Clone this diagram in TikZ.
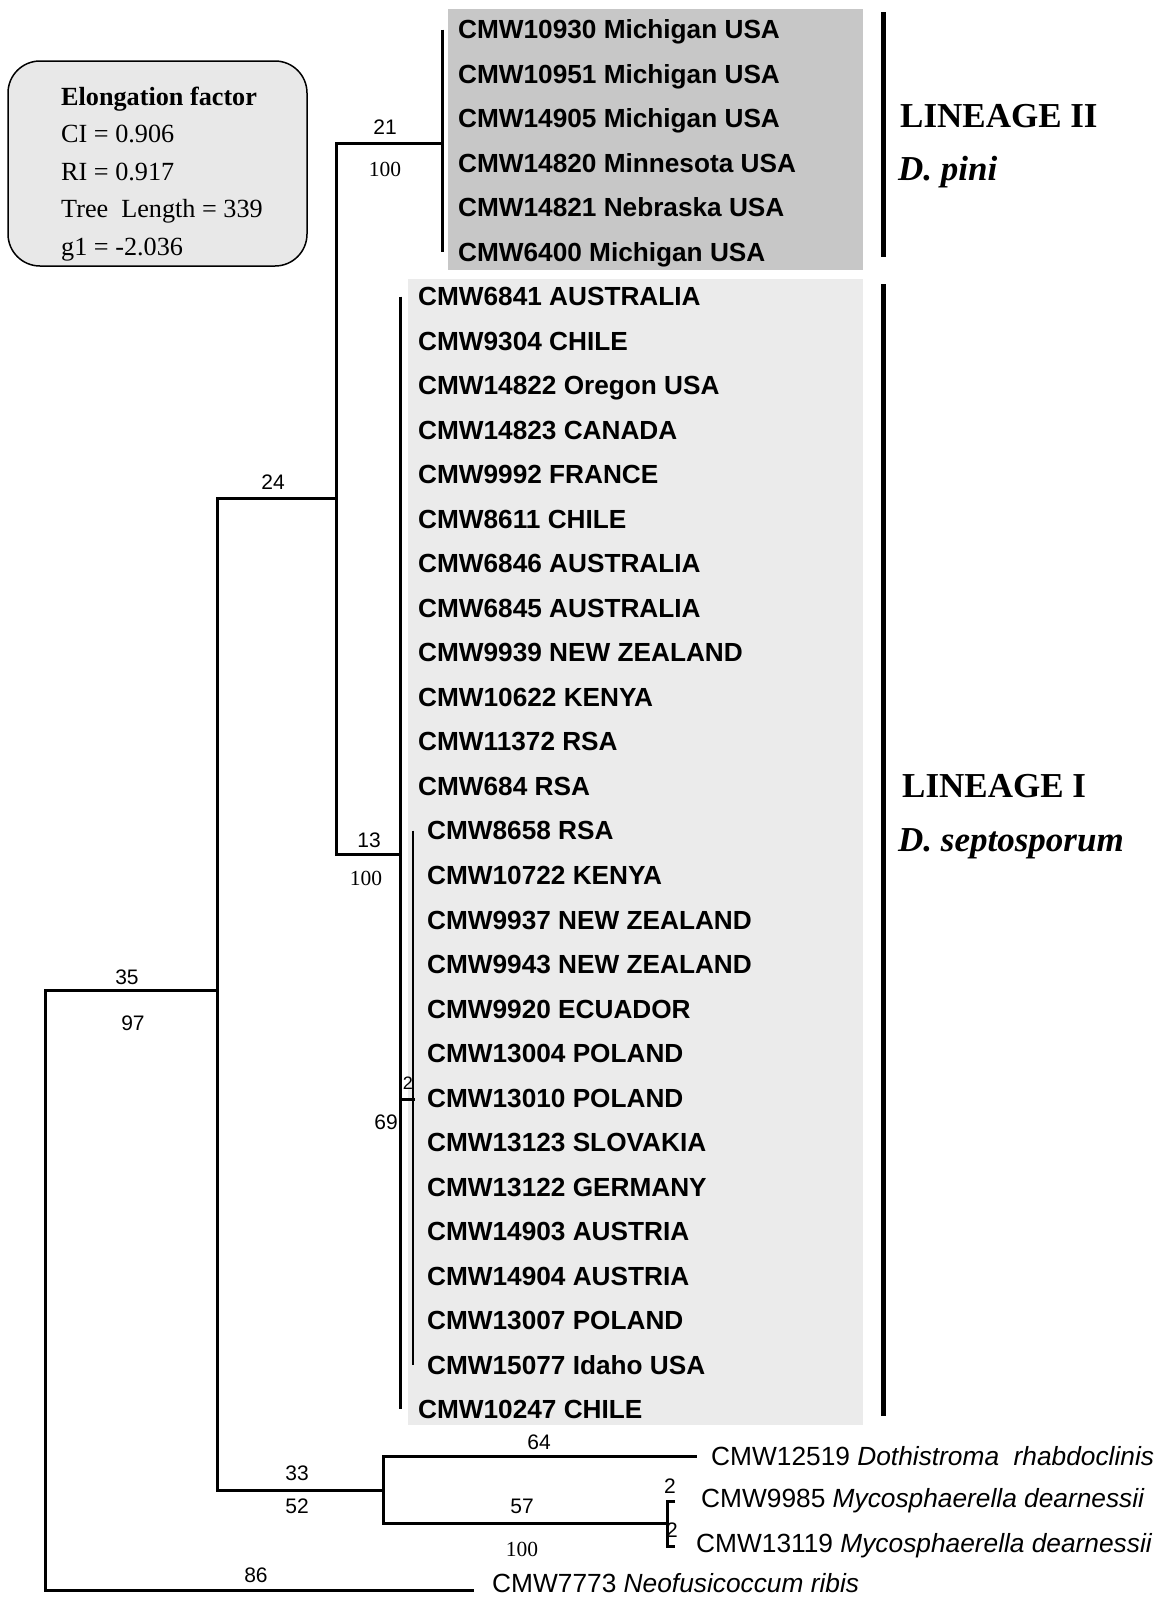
\documentclass[tikz,border=0pt]{standalone}
\usepackage{fontspec}
\setmainfont{Liberation Serif}
\setsansfont{Liberation Sans}
\newcommand{\fs}[1]{\fontsize{#1}{#1}\selectfont}

\begin{document}
\begin{tikzpicture}[x=1pt,y=-1pt,
  br/.style={line width=3pt},
  lbar/.style={line width=5pt},
  taxon/.style={anchor=west,inner sep=0pt,text height=18.6pt,text depth=0pt,font=\fs{26.2}\sffamily\bfseries},
  outgr/.style={anchor=west,inner sep=0pt,text height=18.6pt,text depth=0pt,font=\fs{26.3}\sffamily},
  bsv/.style={inner sep=0pt,font=\fs{21}\sffamily},
  bsr/.style={inner sep=0pt,font=\fs{21.5}},
  lin/.style={anchor=base west,inner sep=0pt,font=\fs{35}\bfseries}]
\useasboundingbox (0,0) rectangle (1172,1598);
% shaded clades
\fill[black!22] (448,9) rectangle (863,270);
\fill[black!8] (408,279) rectangle (863,1425);
% statistics box
\draw[line width=1.5pt,fill=black!9,rounded corners=32pt] (8,61) rectangle (307,266);
\foreach \i/\y/\t in {0/105/{\textbf{Elongation factor}},1/142.5/{CI = 0.906},2/180/{RI = 0.917},3/217.5/{Tree\ \ Length = 339},4/255/{g1 = -2.036}}
  \node[anchor=base west,inner sep=0pt,font=\fs{26.2}] (info\i) at (61,\y) {\t};
% taxa
\foreach \t [count=\i from 0] in {CMW10930 Michigan USA,CMW10951 Michigan USA,CMW14905 Michigan USA,CMW14820 Minnesota USA,CMW14821 Nebraska USA,CMW6400 Michigan USA}
  \node[taxon] (t\i) at (458,29.5+44.51*\i) {\t};
\foreach \t [count=\i from 6] in {CMW6841 AUSTRALIA,CMW9304 CHILE,CMW14822 Oregon USA,CMW14823 CANADA,CMW9992 FRANCE,CMW8611 CHILE,CMW6846 AUSTRALIA,CMW6845 AUSTRALIA,CMW9939 NEW ZEALAND,CMW10622 KENYA,CMW11372 RSA,CMW684 RSA}
  \node[taxon] (t\i) at (418,29.5+44.51*\i) {\t};
\foreach \t [count=\i from 18] in {CMW8658 RSA,CMW10722 KENYA,CMW9937 NEW ZEALAND,CMW9943 NEW ZEALAND,CMW9920 ECUADOR,CMW13004 POLAND,CMW13010 POLAND,CMW13123 SLOVAKIA,CMW13122 GERMANY,CMW14903 AUSTRIA,CMW14904 AUSTRIA,CMW13007 POLAND,CMW15077 Idaho USA}
  \node[taxon] (t\i) at (427,29.5+44.51*\i) {\t};
\node[taxon] (t31) at (418,29.5+44.51*31) {CMW10247 CHILE};
\node[outgr] (tRhab) at (711,1456) {CMW12519 \textit{Dothistroma\ \ rhabdoclinis}};
\node[outgr] (tMyc1) at (701,1498) {CMW9985 \textit{Mycosphaerella dearnessii}};
\node[outgr] (tMyc2) at (696,1543) {CMW13119 \textit{Mycosphaerella dearnessii}};
\node[outgr] (tNeo) at (492,1583) {CMW7773 \textit{Neofusicoccum ribis}};
% internal nodes
\coordinate (nRoot) at (45,1290);
\coordinate (nA) at (217,990);
\coordinate (nB) at (336,498);
\coordinate (nII) at (442,143);
\coordinate (nI) at (400,854);
\coordinate (nSub) at (413,1099);
\coordinate (nOut) at (383,1490);
\coordinate (nMyc) at (667,1523);
\coordinate (cM1) at (675,1501);
\coordinate (cM2) at (675,1546);
\coordinate (cNeo) at (474,1590);
% branches
\draw[br] (nRoot) |- (nA);
\draw[br] (nRoot) |- (cNeo);
\draw[br] (nA) |- (nB);
\draw[br] (nA) |- (nOut);
\draw[br] (nB) |- (nII);
\draw[br] (nB) |- (nI);
\draw[br] (t0.west -| nII) -- (t5.west -| nII);
\draw[br] (t6.west -| nI) -- (t31.west -| nI);
\draw[br] (nSub -| nI) -- ([xshift=2pt]nSub);
\draw[line width=2pt] (t18.west -| nSub) -- (t30.west -| nSub);
\draw[br] (nOut) |- ([xshift=-14pt]tRhab.west);
\draw[br] (nOut) |- (nMyc);
\draw[br] (cM1) -| (nMyc) |- (cM2);
% branch support
\foreach \n/\x/\y/\v in {a/385/127/21,b/273/482/24,c/369/840/13,d/127/977/35,e/133/1023/97,f/297/1473/33,g/297/1506/52,h/539/1442/64,k/522/1506/57,m/670/1486/2,p/672/1530/2,q/256/1575/86}
  \node[bsv] (bs\n) at (\x,\y) {\v};
\foreach \n/\x/\y in {a/385/169,c/366/878,k/522/1549}
  \node[bsr] (bt\n) at (\x,\y) {100};
\node[bsv,font=\fs{18}\sffamily] (bsr2) at (408,1083) {2};
\node[bsv,anchor=east] (bs69) at (398,1122) {69};
% lineages
\draw[lbar] (883,12) -- (883,257);
\draw[lbar] (883,284) -- (883,1416);
\node[lin] (linII) at (900,127) {LINEAGE II};
\node[lin] (spII) at (898,180) {\textit{D. pini}};
\node[lin] (linI) at (902,797) {LINEAGE I};
\node[lin] (spI) at (898,851) {\textit{D. septosporum}};
\end{tikzpicture}
\end{document}
